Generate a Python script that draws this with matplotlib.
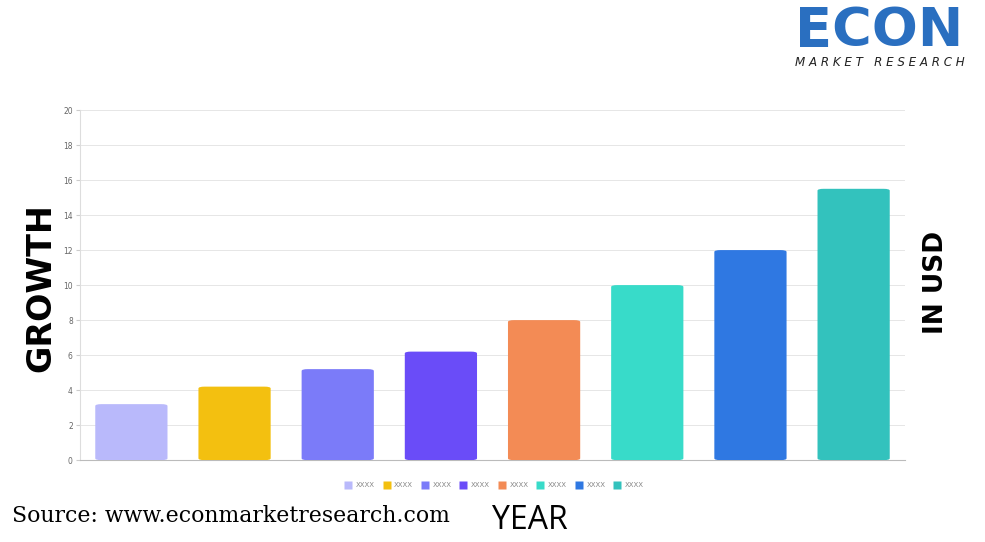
import numpy as np
import matplotlib.pyplot as plt
from matplotlib.patches import FancyBboxPatch

categories = ['XXXX', 'XXXX', 'XXXX', 'XXXX', 'XXXX', 'XXXX', 'XXXX', 'XXXX']
values = [3.2, 4.2, 5.2, 6.2, 8.0, 10.0, 12.0, 15.5]
colors = ['#b9b9fb', '#f3c010', '#7b7bf9', '#6a4cf8',
          '#f38b55', '#38dbc9', '#2f78e2', '#33c2bd']
yticks = [0, 2, 4, 6, 8, 10, 12, 14, 16, 18, 20]

fig = plt.figure(figsize=(9.85, 5.42), dpi=100)
ax = fig.add_axes([0.081, 0.151, 0.838, 0.646])

x = np.arange(len(values))
bars = ax.bar(x, values, width=0.7, color=colors, zorder=3)

# round the top corners a bit
for b in bars:
    b.set_visible(False)
    p = FancyBboxPatch((b.get_x(), 0), b.get_width(), b.get_height(),
                       boxstyle='round,pad=0,rounding_size=0.06',
                       mutation_aspect=1 / 0.35 * 0.6,
                       facecolor=b.get_facecolor(), edgecolor='none', zorder=3)
    ax.add_patch(p)

ax.set_xlim(-0.5, len(values) - 0.5)
ax.set_ylim(0, 20)
ax.set_yticks(yticks)
ax.set_xticks([])
ax.tick_params(axis='y', labelsize=5.5, labelcolor='#666666', length=3,
               color='#cccccc', pad=2)
ax.grid(axis='y', color='#e6e6e6', linewidth=0.7, zorder=0)
for s in ['top', 'right']:
    ax.spines[s].set_visible(False)
ax.spines['left'].set_color('#dddddd')
ax.spines['bottom'].set_color('#bbbbbb')

# legend
handles = [plt.Line2D([], [], marker='s', linestyle='none', markersize=6,
                      markerfacecolor=c, markeredgecolor='none') for c in colors]
fig.legend(handles, categories, loc='center', bbox_to_anchor=(0.5, 0.105),
           ncol=8, frameon=False, fontsize=5, labelcolor='#888888',
           handletextpad=0.1, columnspacing=0.7)

fig.text(0.041, 0.47, 'GROWTH', rotation=90, fontsize=24, fontweight='bold',
         ha='center', va='center', family='DejaVu Sans')
fig.text(0.950, 0.478, 'IN USD', rotation=90, fontsize=19, fontweight='bold',
         ha='center', va='center')
fig.text(0.538, 0.04, 'YEAR', fontsize=23, ha='center', va='center',
         family='Open Sans')
fig.text(0.012, 0.048, 'Source: www.econmarketresearch.com', fontsize=15.8,
         family='DejaVu Serif', ha='left', va='center')

# logo
fig.text(0.893, 0.942, 'ECON', fontsize=39, fontweight='heavy', color='#2a6fc0',
         ha='center', va='center')
fig.text(0.893, 0.884, 'M A R K E T   R E S E A R C H', fontsize=8.6,
         style='italic', color='#222222', ha='center', va='center')

fig.savefig('out.png', dpi=100)
